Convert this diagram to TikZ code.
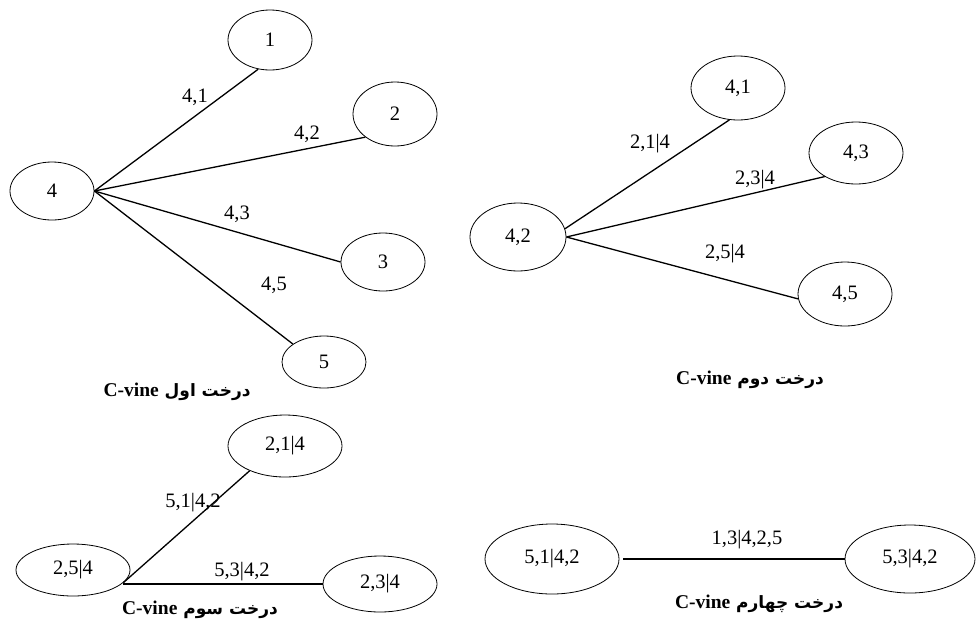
\documentclass[tikz,border=0pt]{standalone}
\usepackage{fontspec}
\setmainfont{Liberation Serif}
\newfontfamily\persianfont[Script=Arabic]{DejaVu Sans}
\TeXXeTstate=1
\usetikzlibrary{shapes.geometric}

\tikzset{
    vnode/.style={ellipse, draw, line width=0.8pt, inner sep=0pt},
    vedge/.style={line width=1.3pt},
    vlabel/.style={inner sep=0pt},
    capt/.style={inner sep=0pt, font=\fontsize{17}{20}\selectfont\bfseries}
}
\newcommand{\cvine}{{\rmfamily\fontsize{19.5}{20}\selectfont\beginL C-vine\endL}}

\begin{document}
\begin{tikzpicture}[x=1pt, y=-1pt, font=\fontsize{20.5}{24}\selectfont]
    \useasboundingbox (0,0) rectangle (979,619);

    % first tree
    \node[vnode, minimum width=84, minimum height=58] (n4) at (52,191) {4};
    \node[vnode, minimum width=84, minimum height=60] (n1) at (270,40) {1};
    \node[vnode, minimum width=84, minimum height=64] (n2) at (395,114) {2};
    \node[vnode, minimum width=84, minimum height=58] (n3) at (383,262) {3};
    \node[vnode, minimum width=84, minimum height=52] (n5) at (324,362) {5};
    \draw[vedge] (n4.east) -- (n1.248);
    \draw[vedge] (n4.east) -- (n2.218);
    \draw[vedge] (n4.east) -- (n3.west);
    \draw[vedge] (n4.east) -- (n5.150);
    \node[vlabel] (l41) at (195,97) {4,1};
    \node[vlabel] (l42) at (307,134) {4,2};
    \node[vlabel] (l43) at (237,214) {4,3};
    \node[vlabel] (l45) at (274,285) {4,5};
    \node[capt] (cap1) at (177,392) {\persianfont\beginR درخت اول \cvine\endR};

    % second tree
    \node[vnode, minimum width=94, minimum height=64] (t41) at (738,88) {4,1};
    \node[vnode, minimum width=94, minimum height=62] (t43) at (856,153) {4,3};
    \node[vnode, minimum width=96, minimum height=68] (t42) at (518,237) {4,2};
    \node[vnode, minimum width=94, minimum height=64] (t45) at (845,294) {4,5};
    \draw[vedge] (t42.10) -- (t41.255);
    \draw[vedge] (t42.east) -- (t43.217);
    \draw[vedge] (t42.east) -- (t45.186);
    \node[vlabel] (l214) at (650,144) {2,1|4};
    \node[vlabel] (l234) at (755,180) {2,3|4};
    \node[vlabel] (l254) at (725,254) {2,5|4};
    \node[capt] (cap2) at (750,380) {\persianfont\beginR درخت دوم \cvine\endR};

    % third tree
    \node[vnode, minimum width=114, minimum height=62] (s21) at (285,446) {2,1|4};
    \node[vnode, minimum width=114, minimum height=52] (s25) at (73,570) {2,5|4};
    \node[vnode, minimum width=114, minimum height=56] (s23) at (380,584) {2,3|4};
    \draw[vedge] (s25.346) -- (s21.215);
    \draw[vedge] (s25.346 |- s23.west) -- (s23.west);
    \node[vlabel] (l5142) at (193,503) {5,1|4,2};
    \node[vlabel] (l5342) at (242,572) {5,3|4,2};
    \node[capt] (cap3) at (200,610) {\persianfont\beginR درخت سوم \cvine\endR};

    % fourth tree
    \node[vnode, minimum width=134, minimum height=70] (f51) at (552,559) {5,1|4,2};
    \node[vnode, minimum width=130, minimum height=68] (f53) at (910,559) {5,3|4,2};
    \draw[vedge, shorten <=4pt] (f51.east) -- (f53.west);
    \node[vlabel] (l13425) at (747,540) {1,3|4,2,5};
    \node[capt] (cap4) at (759,604) {\persianfont\beginR درخت چهارم \cvine\endR};
\end{tikzpicture}
\end{document}
